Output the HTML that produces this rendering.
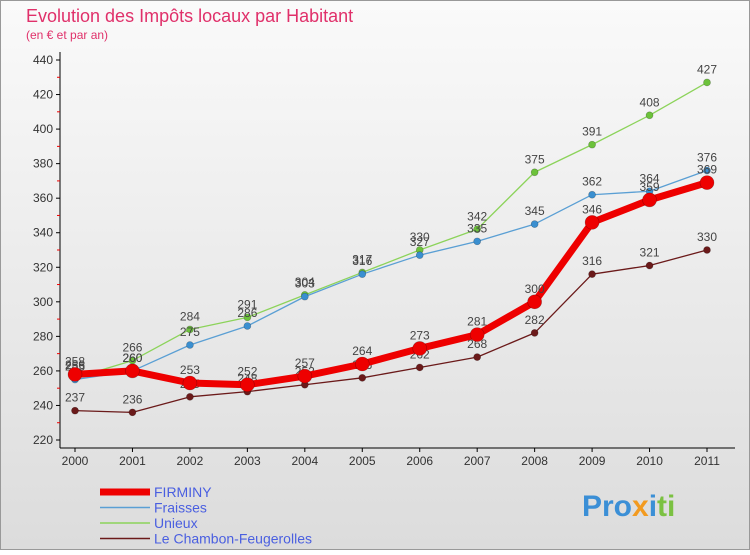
<!DOCTYPE html>
<html><head><meta charset="utf-8"><style>
body{margin:0;width:750px;height:550px;overflow:hidden;font-family:"Liberation Sans",sans-serif}
</style></head><body>
<svg width="750" height="550" xmlns="http://www.w3.org/2000/svg">
<defs><linearGradient id="bg" x1="0" y1="0" x2="0" y2="1"><stop offset="0" stop-color="#fafafa"/><stop offset="1" stop-color="#dcdcdc"/></linearGradient></defs>
<rect x="0.5" y="0.5" width="749" height="549" fill="url(#bg)" stroke="#999"/>
<text x="26" y="22" font-size="18" fill="#e0306a">Evolution des Impôts locaux par Habitant</text>
<text x="26" y="39" font-size="12" fill="#e0306a">(en € et par an)</text>
<g id="axes"></g>
<g id="series"></g>
<g id="legend"></g>
<text x="582" y="516" font-size="30" font-weight="bold" fill="#3b8fd6">Pro<tspan fill="#f29a1f">x</tspan><tspan fill="#3b8fd6">i</tspan><tspan fill="#7bc142">ti</tspan></text>
</svg>
<script>
const years=[2000,2001,2002,2003,2004,2005,2006,2007,2008,2009,2010,2011];
const firminy=[258,260,253,252,257,264,273,281,300,346,359,369];
const fraisses=[255,260,275,286,303,316,327,335,345,362,364,376];
const unieux=[256,266,284,291,304,317,330,342,375,391,408,427];
const chambon=[237,236,245,248,252,256,262,268,282,316,321,330];
const yTicks=[220,240,260,280,300,320,340,360,380,400,420,440];
const names=["FIRMINY","Fraisses","Unieux","Le Chambon-Feugerolles"];
const NS="http://www.w3.org/2000/svg";
const xs=i=>75+i*(707-75)/(years.length-1);
const ys=v=>440-(v-220)*(380/220);
function mk(p,t,a){const e=document.createElementNS(NS,t);for(const k in a)e.setAttribute(k,a[k]);p.appendChild(e);return e;}
const ax=document.getElementById('axes');
let l=mk(ax,'line',{x1:60,y1:52,x2:60,y2:448,stroke:'#000'});


l=mk(ax,'line',{x1:60,y1:448,x2:735,y2:448,stroke:'#000'});


yTicks.forEach((v,i)=>{const y=ys(v);
 mk(ax,'line',{x1:56,y1:y,x2:60,y2:y,stroke:'#000'});
 if(i<yTicks.length-1)mk(ax,'line',{x1:57,y1:y-190/11,x2:60,y2:y-190/11,stroke:'#e00'});
 const t=mk(ax,'text',{x:53,y:y+4,'font-size':12,'text-anchor':'end',fill:'#333'});t.textContent=v;
 
 });
years.forEach((yr,i)=>{const x=xs(i);
 mk(ax,'line',{x1:x,y1:448,x2:x,y2:452,stroke:'#000'});
 const t=mk(ax,'text',{x:x,y:465,'font-size':12,'text-anchor':'middle',fill:'#333'});t.textContent=yr;
 
 });
const sg=document.getElementById('series');
const defs=[[chambon,'#6b1a1a',1.3,3.5,'chambon'],[unieux,'#8cd35a',1.3,3.5,'unieux'],[fraisses,'#5a9fd4',1.3,3.5,'fraisses'],[firminy,'#ee0000',7,7,'firminy']];
const dotc={chambon:'#6b1a1a',unieux:'#6cc23a',fraisses:'#3a8fd0',firminy:'#ee0000'};
defs.forEach(([d,c,w,r,n])=>{
 const g=mk(sg,'g',{});
 
 
 const pl=mk(g,'polyline',{points:d.map((v,i)=>xs(i)+','+ys(v)).join(' '),fill:'none',stroke:c,'stroke-width':w,'stroke-linejoin':'round'});
 
 
 d.forEach((v,i)=>{const p=mk(g,'circle',{cx:xs(i),cy:ys(v),r:r,fill:dotc[n],stroke:'rgba(0,0,0,0.3)','stroke-width':0.6});
  
  
  const t=mk(g,'text',{x:xs(i),y:ys(v)-9,'font-size':12,'text-anchor':'middle',fill:'#444'});t.textContent=v;
  
  });
});
const lg=document.getElementById('legend');
const lc=[['#ee0000',7],['#5a9fd4',1.5],['#8cd35a',1.5],['#6b1a1a',1.5]];
names.forEach((n,i)=>{const y=492+i*15.5;
 const g=mk(lg,'g',{});
 
 
 mk(g,'line',{x1:100,y1:y,x2:150,y2:y,stroke:lc[i][0],'stroke-width':lc[i][1]});
 const t=mk(g,'text',{x:154,y:y+5,'font-size':14,fill:'#4a5fe0'});t.textContent=n;});
</script>
</body></html>
